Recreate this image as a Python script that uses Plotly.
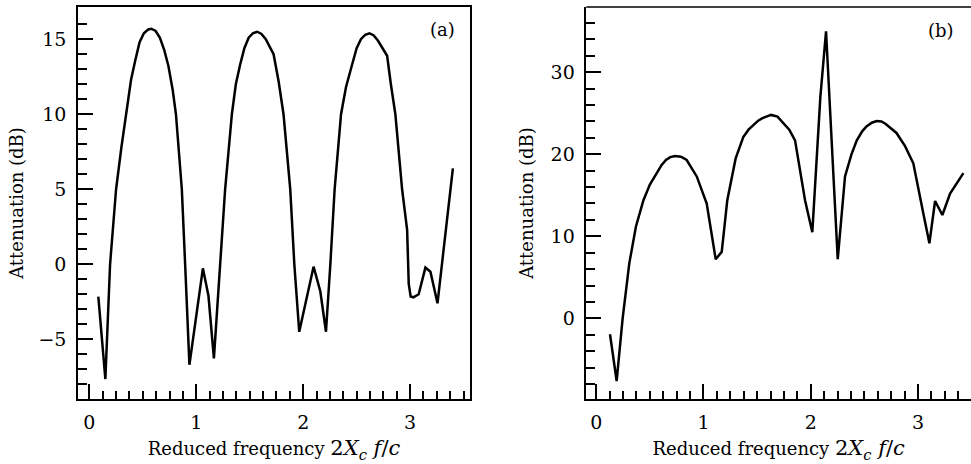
import plotly.graph_objects as go

# Panel (a) data
freq_a = [0.084, 0.15, 0.194, 0.25, 0.30, 0.35, 0.39, 0.43, 0.47, 0.51, 0.55, 0.58, 0.62, 0.66, 0.70,
          0.74, 0.78, 0.81, 0.865, 0.896, 0.936, 1.062, 1.114, 1.165, 1.224, 1.27, 1.333, 1.37, 1.41,
          1.45, 1.49, 1.53, 1.57, 1.61, 1.65, 1.69, 1.723, 1.77, 1.816, 1.879, 1.917, 1.963, 2.097,
          2.16, 2.213, 2.254, 2.294, 2.354, 2.40, 2.457, 2.50, 2.54, 2.58, 2.62, 2.66, 2.70, 2.74,
          2.785, 2.82, 2.862, 2.925, 2.972, 2.987, 3.005, 3.03, 3.08, 3.143, 3.19, 3.256, 3.40]
atten_a = [-2.16, -7.65, 0.0, 5.0, 7.8, 10.2, 12.3, 13.6, 14.8, 15.4, 15.65, 15.7, 15.55, 15.1, 14.3,
           13.2, 11.6, 10.0, 5.0, 0.0, -6.7, -0.27, -2.1, -6.27, 0.0, 5.0, 10.0, 12.0, 13.3,
           14.4, 15.1, 15.4, 15.5, 15.35, 15.0, 14.5, 14.0, 12.2, 10.0, 5.0, 0.0, -4.5, -0.16,
           -1.8, -4.5, 0.0, 5.0, 10.0, 11.8, 13.3, 14.4, 15.0, 15.3, 15.4, 15.25, 14.9, 14.4,
           13.9, 12.0, 10.0, 5.0, 2.3, -1.3, -2.15, -2.2, -2.0, -0.22, -0.5, -2.6, 6.4]

# Panel (b) data
freq_b = [0.128, 0.19, 0.246, 0.308, 0.370, 0.44, 0.50, 0.563, 0.61, 0.65, 0.69, 0.734, 0.79, 0.843,
          0.937, 1.03, 1.114, 1.17, 1.222, 1.30, 1.371, 1.42, 1.465, 1.51, 1.55, 1.59, 1.63, 1.69,
          1.744, 1.80, 1.854, 1.947, 2.015, 2.09, 2.143, 2.252, 2.32, 2.38, 2.43, 2.48, 2.52, 2.57,
          2.615, 2.66, 2.70, 2.80, 2.88, 2.957, 3.05, 3.107, 3.16, 3.228, 3.30, 3.37, 3.424]
atten_b = [-1.95, -7.65, 0.0, 6.7, 11.2, 14.4, 16.3, 17.7, 18.7, 19.3, 19.65, 19.8, 19.7, 19.3,
           17.3, 14.0, 7.2, 8.1, 14.4, 19.5, 22.1, 23.0, 23.6, 24.1, 24.4, 24.65, 24.8, 24.6,
           23.8, 23.0, 21.7, 14.4, 10.5, 27.0, 35.0, 7.2, 17.3, 20.0, 21.7, 22.8, 23.4, 23.85,
           24.06, 24.0, 23.7, 22.6, 21.0, 18.9, 12.8, 9.15, 14.3, 12.6, 15.2, 16.7, 17.7]

x_title = ("Reduced frequency <span style='font-size:21px'>2<i>X</i><sub><i>c</i></sub> "
           "<i>f</i>/<i>c</i></span>")
y_title = "Attenuation (dB)"
FONT = "DejaVu Serif"

W, H = 971, 464
fig = go.Figure()
fig.add_trace(go.Scatter(x=freq_a, y=atten_a, mode="lines", line=dict(color="black", width=2.5),
                         xaxis="x", yaxis="y", showlegend=False, hoverinfo="skip"))
fig.add_trace(go.Scatter(x=freq_b, y=atten_b, mode="lines", line=dict(color="black", width=2.5),
                         xaxis="x2", yaxis="y2", showlegend=False, hoverinfo="skip"))

ydom = [1 - 399 / H, 1 - 7 / H]
common = dict(showgrid=False, zeroline=False, showline=True, linecolor="black", linewidth=1.5,
              ticks="inside", ticklen=15, tickwidth=1.5, tickcolor="black",
              tickfont=dict(family=FONT, size=19, color="black"),
              title_font=dict(family=FONT, size=18, color="black"), automargin=False)
minor_x = dict(tickmode="array", tickvals=[i * 0.125 for i in range(0, 29)],
               ticks="inside", ticklen=8, tickwidth=1.5, tickcolor="black")

fig.update_layout(
    width=W, height=H, margin=dict(l=0, r=0, t=0, b=0),
    paper_bgcolor="white", plot_bgcolor="white",
    xaxis=dict(domain=[78 / W, 470 / W], range=[-0.106, 3.56], anchor="y", mirror=True,
               tickmode="array", tickvals=[0, 1, 2, 3], ticklabelstandoff=5, minor=minor_x,
               title=dict(text=x_title, standoff=11), **common),
    yaxis=dict(domain=ydom, range=[-8.98, 17.15], anchor="x", mirror=True,
               tickmode="array", tickvals=[-5, 0, 5, 10, 15], ticklabelstandoff=6,
               minor=dict(tickmode="array", tickvals=list(range(-8, 17)),
                          ticks="inside", ticklen=9, tickwidth=1.5, tickcolor="black"),
               title=dict(text=y_title, standoff=10), **common),
    xaxis2=dict(domain=[586.3 / W, 1.0], range=[-0.093, 3.495], anchor="y2", mirror=False,
                tickmode="array", tickvals=[0, 1, 2, 3], ticklabelstandoff=5, minor=minor_x,
                title=dict(text=x_title, standoff=11), **common),
    yaxis2=dict(domain=ydom, range=[-9.84, 37.96], anchor="x2", mirror=False,
                tickmode="array", tickvals=[0, 10, 20, 30], ticklabelstandoff=6,
                minor=dict(tickmode="array", tickvals=list(range(-8, 37, 2)),
                           ticks="inside", ticklen=9, tickwidth=1.5, tickcolor="black"),
                title=dict(text=y_title, standoff=12), **common),
    annotations=[
        dict(text="(a)", x=457 / W, y=1 - 29 / H, xref="paper", yref="paper", xanchor="right",
             yanchor="middle", showarrow=False, font=dict(family=FONT, size=18, color="black")),
        dict(text="(b)", x=956 / W, y=1 - 30 / H, xref="paper", yref="paper", xanchor="right",
             yanchor="middle", showarrow=False, font=dict(family=FONT, size=18, color="black")),
    ],
)
# top border line for panel (b)
fig.add_shape(type="line", xref="paper", yref="paper", x0=586.3 / W, x1=1.0, y0=ydom[1], y1=ydom[1],
              line=dict(color="black", width=1.5))

fig.write_html("out.html", config={"displayModeBar": False},
               post_script="document.body.style.margin='0';document.body.style.overflow='hidden';")
